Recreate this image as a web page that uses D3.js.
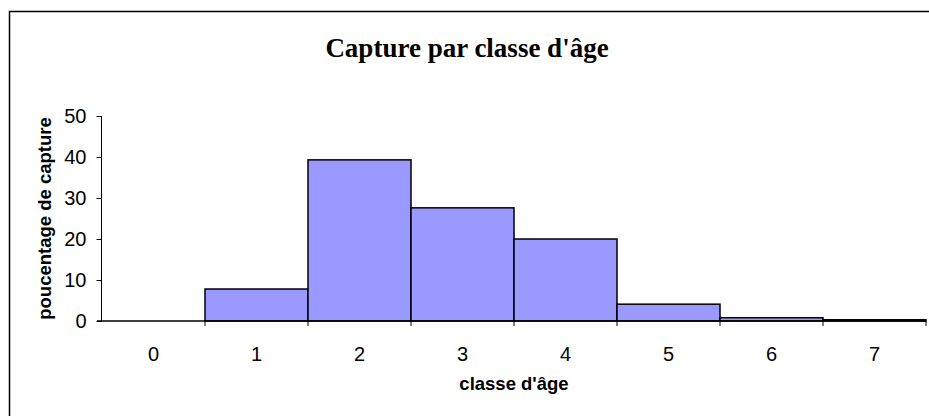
<!DOCTYPE html>
<html>
<head>
	<meta charset="utf-8" />
	<style>
		body {
			margin: 0;
			background-color: #fff;
		}
		svg {
			display: block;
		}
	</style>
</head>
<body>
	<svg id="chart" width="929" height="416"></svg>

	<script src="https://cdnjs.cloudflare.com/ajax/libs/d3/7.8.5/d3.min.js"></script>
	<script>
		var categories = ['0', '1', '2', '3', '4', '5', '6', '7'];
		var values = [0, 7.8, 39.3, 27.6, 20, 4.1, 0.8, 0.3];
		var yTicks = [0, 10, 20, 30, 40, 50];

		var data = categories.map((c, i) => ({ age: c, value: values[i] }));

		var svg = d3.select('#chart');
		var plot = { left: 102, right: 926, top: 116, bottom: 321 };
		var sans = '"Liberation Sans", Arial, sans-serif';

		// chart frame (right and bottom edges are cut off in the original)
		svg.append('path')
			.attr('d', 'M9.5,416 L9.5,11.5 L929,11.5')
			.attr('fill', 'none')
			.attr('stroke', '#000')
			.attr('stroke-width', 1.5);

		svg.append('text')
			.attr('x', 467)
			.attr('y', 57)
			.attr('text-anchor', 'middle')
			.style('font', 'bold 27px "Liberation Serif", "Times New Roman", serif')
			.text("Capture par classe d'âge");

		var x = d3.scaleBand()
			.domain(categories)
			.range([plot.left, plot.right])
			.padding(0);

		var y = d3.scaleLinear()
			.domain([0, 50])
			.range([plot.bottom, plot.top]);

		// bars
		svg.append('g')
			.selectAll('rect')
			.data(data.filter(d => d.value > 0))
			.join('rect')
			.attr('x', d => x(d.age))
			.attr('y', d => y(d.value))
			.attr('width', x.bandwidth())
			.attr('height', d => y(0) - y(d.value))
			.attr('fill', '#9999ff')
			.attr('stroke', '#000')
			.attr('stroke-width', 1.5);

		// y axis
		var yAxis = svg.append('g')
			.attr('transform', `translate(${plot.left - 0.5},0)`)
			.call(d3.axisLeft(y).tickValues(yTicks).tickSize(5).tickPadding(10));
		yAxis.select('.domain').attr('stroke', '#000').attr('d', `M0,${plot.top}V${plot.bottom + 1}`);
		yAxis.selectAll('.tick line').attr('stroke', '#000');
		yAxis.selectAll('text')
			.style('font', '20px ' + sans)
			.attr('fill', '#000');

		// x axis: ticks at category boundaries
		var xg = svg.append('g').attr('transform', `translate(0,${plot.bottom})`);
		xg.append('line')
			.attr('x1', plot.left - 5)
			.attr('x2', plot.right)
			.attr('stroke', '#000')
			.attr('stroke-width', 1.5);
		xg.selectAll('.bound')
			.data(categories.slice(1).concat(['end']))
			.join('line')
			.attr('class', 'bound')
			.attr('x1', (d, i) => x(categories[0]) + (i + 1) * x.bandwidth())
			.attr('x2', (d, i) => x(categories[0]) + (i + 1) * x.bandwidth())
			.attr('y1', 0)
			.attr('y2', 5)
			.attr('stroke', '#000');
		xg.selectAll('.lbl')
			.data(categories)
			.join('text')
			.attr('class', 'lbl')
			.attr('x', d => x(d) + x.bandwidth() / 2)
			.attr('y', 40)
			.attr('text-anchor', 'middle')
			.style('font', '20px ' + sans)
			.text(d => d);

		// axis titles
		svg.append('text')
			.attr('x', (plot.left + plot.right) / 2)
			.attr('y', 390)
			.attr('text-anchor', 'middle')
			.style('font', 'bold 18.5px ' + sans)
			.text("classe d'âge");

		svg.append('text')
			.attr('transform', `translate(51,${(plot.top + plot.bottom) / 2}) rotate(-90)`)
			.attr('text-anchor', 'middle')
			.style('font', 'bold 18.5px ' + sans)
			.text('poucentage de capture');
	</script>
</body>
</html>
